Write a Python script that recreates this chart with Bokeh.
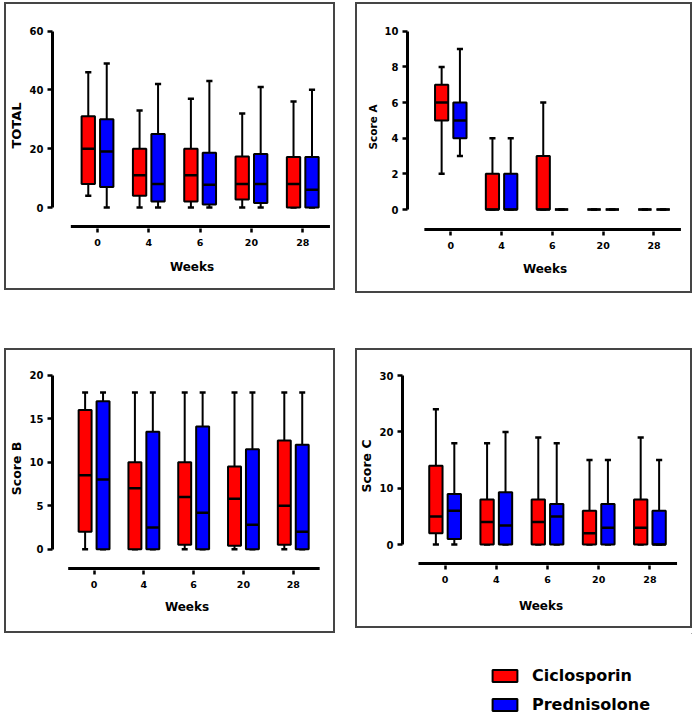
from bokeh.plotting import figure
from bokeh.layouts import column, row
from bokeh.models import Spacer, FixedTicker, Range1d, Legend, LegendItem, ColumnDataSource
from bokeh.embed import file_html
from bokeh.resources import INLINE

# ---------------- data ----------------
weeks = ["0", "4", "6", "20", "28"]
groups = ["Ciclosporin", "Prednisolone"]
colors = ["#FF0000", "#0000FF"]

# TOTAL
total_ticks = [0, 20, 40, 60]
total_cic_min = [4, 0, 0, 0, 0]
total_cic_q1 = [8, 4, 2, 2.7, 0]
total_cic_med = [20, 11, 11, 8, 8]
total_cic_q3 = [31, 20, 20, 17.3, 17.2]
total_cic_max = [46, 33, 37, 32, 36]
total_pred_min = [0, 0, 0, 0, 0]
total_pred_q1 = [7, 2, 1, 1.5, 0]
total_pred_med = [19, 8, 7.7, 8, 6]
total_pred_q3 = [30, 25, 18.6, 18.2, 17.2]
total_pred_max = [49, 42, 43, 41, 40]

# Score A
a_ticks = [0, 2, 4, 6, 8, 10]
a_cic_min = [2, 0, 0, 0, 0]
a_cic_q1 = [5, 0, 0, 0, 0]
a_cic_med = [6, 0, 0, 0, 0]
a_cic_q3 = [7, 2, 3, 0, 0]
a_cic_max = [8, 4, 6, 0, 0]
a_pred_min = [3, 0, 0, 0, 0]
a_pred_q1 = [4, 0, 0, 0, 0]
a_pred_med = [5, 0, 0, 0, 0]
a_pred_q3 = [6, 2, 0, 0, 0]
a_pred_max = [9, 4, 0, 0, 0]

# Score B
b_ticks = [0, 5, 10, 15, 20]
b_cic_min = [0, 0, 0, 0, 0]
b_cic_q1 = [2, 0, 0.5, 0.4, 0.5]
b_cic_med = [8.5, 7, 6, 5.8, 5]
b_cic_q3 = [16, 10, 10, 9.5, 12.5]
b_cic_max = [18, 18, 18, 18, 18]
b_pred_min = [0, 0, 0, 0, 0]
b_pred_q1 = [0, 0, 0, 0, 0]
b_pred_med = [8, 2.5, 4.2, 2.8, 2]
b_pred_q3 = [17, 13.5, 14.1, 11.5, 12]
b_pred_max = [18, 18, 18, 18, 18]

# Score C
c_ticks = [0, 10, 20, 30]
c_cic_min = [0, 0, 0, 0, 0]
c_cic_q1 = [2, 0, 0, 0, 0]
c_cic_med = [5, 4, 4, 2, 3]
c_cic_q3 = [14, 8, 8, 6, 8]
c_cic_max = [24, 18, 19, 15, 19]
c_pred_min = [0, 0, 0, 0, 0]
c_pred_q1 = [1, 0, 0, 0, 0]
c_pred_med = [6, 3.4, 5, 3, 0]
c_pred_q3 = [9, 9.3, 7.2, 7.2, 6]
c_pred_max = [18, 20, 18, 15, 15]

# ---------------- styling ----------------
FONT = "DejaVu Sans"
BOX_W = 0.26
CAP_W = 0.12
OFFSET = 0.18
X_LINE_BOUNDS = (-0.52, 4.53)   # extent of the offset x-axis rule (in group units)


def panel(ylabel, yticks, cic, pred, width, height, mb, xr, yr, ylab_size, xlab_standoff):
    ppu = (height - mb[2] - mb[3]) / (yr[1] - yr[0])
    y_rule = yr[0]
    y_start = yr[0] - 2.0 / ppu          # frame extends 2px below the rule
    p = figure(width=width, height=height,
               x_range=Range1d(*xr), y_range=Range1d(y_start, yr[1]),
               output_backend="svg", toolbar_location=None,
               min_border_left=mb[0], min_border_right=mb[1],
               min_border_top=mb[2], min_border_bottom=mb[3] - 2)
    p.grid.visible = False
    p.outline_line_color = None
    p.background_fill_color = None
    p.border_fill_color = None
    p.styles = {"box-shadow": "inset 0 0 0 2px #454545", "background-color": "white"}

    # offset x-axis rule (GraphPad style)
    p.segment(x0=[X_LINE_BOUNDS[0]], y0=[y_rule], x1=[X_LINE_BOUNDS[1]], y1=[y_rule],
              line_color="black", line_width=3)

    idx = list(range(len(weeks)))
    for stats, color, sign in ((cic, colors[0], -1), (pred, colors[1], 1)):
        lo, q1, med, q3, hi = stats
        xs = [i + sign * OFFSET for i in idx]
        src = ColumnDataSource(dict(
            x=xs, lo=lo, q1=q1, med=med, q3=q3, hi=hi,
            bl=[x - BOX_W / 2 for x in xs], br=[x + BOX_W / 2 for x in xs],
            cl=[x - CAP_W / 2 for x in xs], cr=[x + CAP_W / 2 for x in xs]))
        p.segment(x0="x", y0="q3", x1="x", y1="hi", source=src, line_color="black", line_width=2)
        p.segment(x0="x", y0="q1", x1="x", y1="lo", source=src, line_color="black", line_width=2)
        p.segment(x0="cl", y0="hi", x1="cr", y1="hi", source=src, line_color="black", line_width=2.5)
        p.segment(x0="cl", y0="lo", x1="cr", y1="lo", source=src, line_color="black", line_width=2.5)
        p.vbar(x="x", width=BOX_W, top="q3", bottom="q1", source=src,
               fill_color=color, line_color="black", line_width=2)
        p.segment(x0="bl", y0="med", x1="br", y1="med", source=src, line_color="black", line_width=2.5)

    xa = p.xaxis[0]
    xa.ticker = FixedTicker(ticks=idx)
    xa.major_label_overrides = {i: w for i, w in enumerate(weeks)}
    xa.axis_label = "Weeks"
    ya = p.yaxis[0]
    ya.ticker = FixedTicker(ticks=yticks)
    ya.bounds = (yticks[0], yticks[-1])
    ya.axis_label = ylabel
    for ax in (xa, ya):
        ax.axis_line_width = 3
        ax.axis_line_color = "black"
        ax.major_tick_line_width = 2.5
        ax.major_tick_line_color = "black"
        ax.major_tick_out = 5
        ax.major_tick_in = 0
        ax.minor_tick_line_color = None
        ax.major_label_text_font = FONT
        ax.major_label_text_font_style = "bold"
        ax.major_label_text_color = "black"
        ax.axis_label_text_font = FONT
        ax.axis_label_text_font_style = "bold"
        ax.axis_label_text_color = "black"
    xa.axis_line_color = None
    xa.major_tick_out = 4
    xa.major_label_text_font_size = "9.5px"
    ya.major_label_text_font_size = "10px"
    xa.major_label_standoff = 6
    ya.major_label_standoff = 4
    xa.axis_label_text_font_size = "12px"
    ya.axis_label_text_font_size = ylab_size
    xa.axis_label_standoff = xlab_standoff
    ya.axis_label_standoff = 3
    return p


p1 = panel("TOTAL", total_ticks,
           (total_cic_min, total_cic_q1, total_cic_med, total_cic_q3, total_cic_max),
           (total_pred_min, total_pred_q1, total_pred_med, total_pred_q3, total_pred_max),
           331, 288, (48, 4, 20, 64), (-0.877, 4.56), (-6.46, 62.9), "13px", 11)
p2 = panel("Score A", a_ticks,
           (a_cic_min, a_cic_q1, a_cic_med, a_cic_q3, a_cic_max),
           (a_pred_min, a_pred_q1, a_pred_med, a_pred_q3, a_pred_max),
           337, 291, (52, 10, 20, 64), (-0.852, 4.561), (-1.12, 10.49), "10.5px", 10)
p3 = panel("Score B", b_ticks,
           (b_cic_min, b_cic_q1, b_cic_med, b_cic_q3, b_cic_max),
           (b_pred_min, b_pred_q1, b_pred_med, b_pred_q3, b_pred_max),
           331, 285, (48, 14, 18, 65), (-0.835, 4.567), (-2.22, 21.0), "12.5px", 9)
p4 = panel("Score C", c_ticks,
           (c_cic_min, c_cic_q1, c_cic_med, c_cic_q3, c_cic_max),
           (c_pred_min, c_pred_q1, c_pred_med, c_pred_q3, c_pred_max),
           337, 280, (47, 13, 18, 60), (-0.832, 4.578), (-3.36, 31.6), "12.5px", 13)

# legend figure (legend swatches are drawn from off-range dummy glyphs)
lf = figure(width=688, height=81, x_range=Range1d(0, 1), y_range=Range1d(0, 1),
            output_backend="svg", toolbar_location=None, min_border=0,
            x_axis_type=None, y_axis_type=None)
lf.grid.visible = False
lf.outline_line_color = None
items = []
for g, c in zip(groups, colors):
    r = lf.vbar(x="x", top="top", bottom="bottom", width=0.1,
                source=ColumnDataSource(dict(x=[5], top=[6], bottom=[5])),
                fill_color=c, line_color="black", line_width=2)
    items.append(LegendItem(label=g, renderers=[r]))
leg = Legend(items=items, location=(485, 0), orientation="vertical",
             glyph_width=31, glyph_height=15, label_height=15, label_standoff=12,
             spacing=10, padding=0, margin=0, border_line_color=None,
             background_fill_alpha=0,
             label_text_font=FONT, label_text_font_style="bold",
             label_text_font_size="16px", label_text_color="black")
lf.add_layout(leg)

root = column(row(p1, Spacer(width=20), p2),
              Spacer(height=55),
              row(p3, Spacer(width=20), p4),
              lf)
root.margin = (2, 0, 0, 4)

open("out.html", "w").write(file_html(root, INLINE))
